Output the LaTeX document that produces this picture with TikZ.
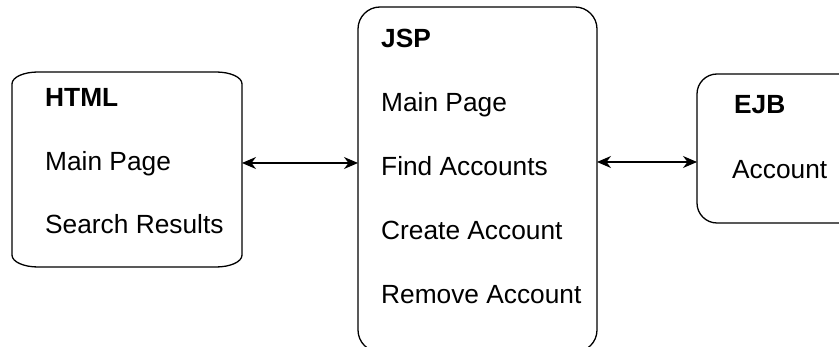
\documentclass[tikz,border=0pt]{standalone}
\usepackage{fontspec}
\setmainfont{Liberation Sans}
\usetikzlibrary{arrows.meta}
\tikzset{
  outline/.style={draw=black, line width=1.3pt},
  label/.style={anchor=base west, inner sep=0pt, font=\fontsize{26.3}{30}\selectfont},
  title/.style={label, font=\fontsize{26.3}{30}\selectfont\bfseries},
  tip/.style={Stealth[length=14pt,width=12pt,inset=4.5pt]},
  link/.style={line width=1.3pt, {Stealth[length=14pt,width=12pt,inset=4.5pt]}-{Stealth[length=14pt,width=12pt,inset=4.5pt]}}
}
\begin{document}
\begin{tikzpicture}[x=1pt,y=-1pt]
  \useasboundingbox (0,0) rectangle (839,347);
  \clip (0,0) rectangle (839,347);
  \fill[white] (0,0) rectangle (839,347);

  % HTML tier: box with flattened elliptical corners
  \draw[outline] (12,84) .. controls (12,77) and (24,72) .. (38,72)
    -- (216,72) .. controls (230,72) and (242,77) .. (242,84)
    -- (242,255) .. controls (242,262) and (230,267) .. (216,267)
    -- (38,267) .. controls (24,267) and (12,262) .. (12,255) -- cycle;
  \coordinate (htmlE) at (242,163);
  \node[title] (htmlT) at (45,107) {HTML};
  \node[label] (htmlA) at (45,171) {Main Page};
  \node[label] (htmlB) at (45,234) {Search Results};

  % JSP tier
  \draw[outline, rounded corners=22pt] (358,7) rectangle (597,352);
  \coordinate (jspW) at (358,163);
  \coordinate (jspE) at (597,162);
  \node[title] (jspT) at (381,48) {JSP};
  \node[label] (jspA) at (381,112) {Main Page};
  \node[label] (jspB) at (381,176) {Find Accounts};
  \node[label] (jspC) at (381,240) {Create Account};
  \node[label] (jspD) at (381,304) {Remove Account};

  % EJB tier
  \draw[outline, rounded corners=20pt] (697,74) rectangle (870,223);
  \coordinate (ejbW) at (697,162);
  \node[title] (ejbT) at (734,114) {EJB};
  \node[label] (ejbA) at (732,179) {Account};

  % calls between the tiers
  \draw[link] (htmlE) -- (jspW);
  \draw[link] (jspE) -- (ejbW);
\end{tikzpicture}
\end{document}
